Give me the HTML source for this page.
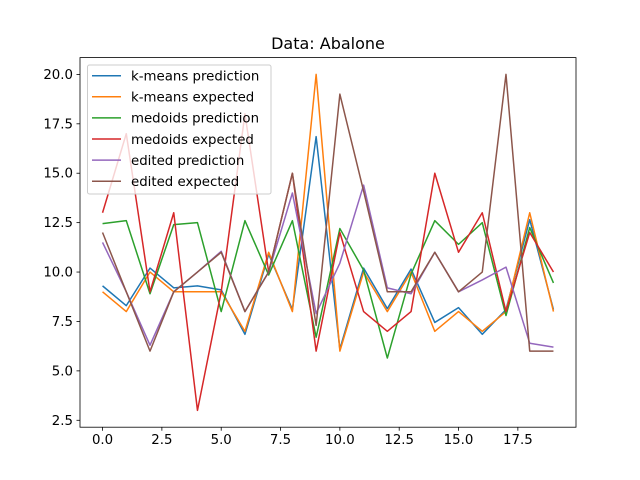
<!DOCTYPE html>
<html><head><meta charset="utf-8"><style>body{margin:0;background:#fff}svg{display:block;font-family:"DejaVu Sans","Liberation Sans",sans-serif}</style></head>
<body>
<svg id="chart" width="640" height="480" xmlns="http://www.w3.org/2000/svg"></svg>
<script>
const xTicks=[0,2.5,5,7.5,10,12.5,15,17.5];
const yTicks=[2.5,5,7.5,10,12.5,15,17.5,20];
const seriesNames=["k-means prediction","k-means expected","medoids prediction","medoids expected","edited prediction","edited expected"];
const colors=["#1f77b4","#ff7f0e","#2ca02c","#d62728","#9467bd","#8c564b"];
const kmeansPred=[9.3,8.3,10.2,9.2,9.3,9.1,6.85,10.9,8.1,16.85,6.1,10.2,8.15,10.15,7.45,8.2,6.85,8.1,12.65,8.1];
const kmeansExp=[9,8,10,9,9,9,7,11,8,20,6,10,8,10,7,8,7,8,13,8];
const medoidsPred=[12.45,12.6,8.9,12.4,12.5,8,12.6,9.85,12.6,6.7,12.2,10.1,5.65,9.9,12.6,11.4,12.5,7.8,12.25,9.45];
const medoidsExp=[13,17,9,13,3,9,18,10,15,6,12,8,7,8,15,11,13,8,12,10];
const editedPred=[11.5,9,6.3,9,10,11.05,8,10,14,7.9,10.45,14.4,9.2,8.9,11,9,9.6,10.25,6.4,6.2];
const editedExp=[12,9,6,9,10,11,8,10,15,7.3,19,14.1,9,9,11,9,10,20,6,6];
const allSeries=[kmeansPred,kmeansExp,medoidsPred,medoidsExp,editedPred,editedExp];

const NS="http://www.w3.org/2000/svg";
const svg=document.getElementById('chart');
const L=80,R=576,T=57.6,B=427.2;
let n=kmeansPred.length;
let flat=allSeries.flat();
let ymin=Math.min(...flat),ymax=Math.max(...flat);
let yr=ymax-ymin,x0=-0.05*(n-1),x1=(n-1)*1.05;
let y0=ymin-0.05*yr,y1=ymax+0.05*yr;
const xs=v=>L+(v-x0)/(x1-x0)*(R-L);
const ys=v=>B-(v-y0)/(y1-y0)*(B-T);
function mk(tag,attrs,parent){const e=document.createElementNS(NS,tag);for(const k in attrs)e.setAttribute(k,attrs[k]);(parent||svg).appendChild(e);return e;}

// series
allSeries.forEach((s,i)=>{
  const p=mk('polyline',{points:s.map((v,j)=>xs(j)+','+ys(v)).join(' '),fill:'none',stroke:colors[i],'stroke-width':1.5,'stroke-linejoin':'round'});
  
  
});
// axes frame
const fr=mk('rect',{x:L,y:T,width:R-L,height:B-T,fill:'none',stroke:'#000','stroke-width':0.8});


xTicks.forEach(t=>{
  const x=xs(t);
  mk('line',{x1:x,x2:x,y1:B,y2:B+3.5,stroke:'#000','stroke-width':0.8});
  const tx=mk('text',{x:x,y:B+17,'text-anchor':'middle','font-size':'10pt',fill:'#000'});
  tx.textContent=t.toFixed(1);
  
  
});
yTicks.forEach(t=>{
  const y=ys(t);
  mk('line',{x1:L-3.5,x2:L,y1:y,y2:y,stroke:'#000','stroke-width':0.8});
  const tx=mk('text',{x:L-7,y:y+4.5,'text-anchor':'end','font-size':'10pt',fill:'#000'});
  tx.textContent=t.toFixed(1);
  
  
});
const title=mk('text',{x:(L+R)/2,y:49,'text-anchor':'middle','font-size':'12pt',fill:'#000'});
title.textContent='Data: Abalone';


// legend
const lg=mk('g',{});


mk('rect',{x:87.5,y:65,width:183.5,height:129,rx:2,fill:'rgba(255,255,255,0.8)',stroke:'#cccccc','stroke-width':1},lg);
seriesNames.forEach((nm,i)=>{
  const y=75.7+i*21.1;
  const g=mk('g',{},lg);
  
  
  mk('line',{x1:92,x2:121,y1:y,y2:y,stroke:colors[i],'stroke-width':1.5},g);
  const t=mk('text',{x:131,y:y+4.8,'font-size':'10pt',fill:'#000'},g);
  t.textContent=nm;
});
</script>
</body></html>
